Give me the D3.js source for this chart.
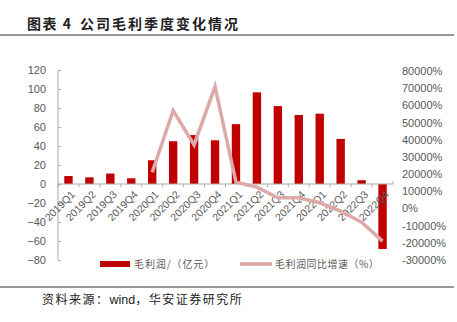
<!DOCTYPE html>
<html><head><meta charset="utf-8">
<script src="https://cdn.jsdelivr.net/npm/d3@7"></script>
<style>body{margin:0;background:#fff}svg{display:block}</style>
</head><body><svg id="c" width="457" height="322"></svg>
<script>
const categories = ["2019Q1","2019Q2","2019Q3","2019Q4","2020Q1","2020Q2","2020Q3","2020Q4","2021Q1","2021Q2","2021Q3","2021Q4","2022Q1","2022Q2","2022Q3","2022Q4"];
const grossProfit = [8.4, 7, 11, 6, 25, 45, 51.5, 46, 63, 96.5, 82, 72.6, 74, 47.4, 4, -68.4];
const growthCats = ["2020Q1","2020Q2","2020Q3","2020Q4","2021Q1","2021Q2","2021Q3","2021Q4","2022Q1","2022Q2","2022Q3","2022Q4"];
const growthPct = [21100, 57000, 37000, 70900, 15300, 12400, 6200, 6200, 3300, -1600, -8000, -19000];
const leftTicks = [120,100,80,60,40,20,0,-20,-40,-60,-80];
const rightTicks = [80000,70000,60000,50000,40000,30000,20000,10000,0,-10000,-20000,-30000];

const svg = d3.select("#c");
const FONT = "'Liberation Sans', Arial, sans-serif";
const CJK = "'Noto Sans CJK SC', sans-serif";
const gray = "#595959";

// title
svg.append("text").attr("x",27).attr("y",29).attr("font-family",CJK).attr("font-weight","bold")
  .attr("font-size",14).attr("letter-spacing",1.5).attr("fill","#222").text("图表 4");
svg.append("text").attr("x",80).attr("y",29).attr("font-family",CJK).attr("font-weight","bold")
  .attr("font-size",14).attr("letter-spacing",2).attr("fill","#222").text("公司毛利季度变化情况");
svg.append("line").attr("x1",0).attr("x2",454).attr("y1",35).attr("y2",35).attr("stroke","#333").attr("stroke-width",1.2);
svg.append("line").attr("x1",0).attr("x2",454).attr("y1",287).attr("y2",287).attr("stroke","#777").attr("stroke-width",1.5);
const src = svg.append("text").attr("x",42).attr("y",304).attr("font-family",CJK).attr("font-size",12).attr("fill","#222");
src.append("tspan").attr("letter-spacing",1.5).text("资料来源：");
src.append("tspan").attr("font-family",FONT).attr("font-size",12.5).text("wind");
src.append("tspan").attr("letter-spacing",1.5).text("，华安证券研究所");

const x = d3.scaleBand().domain(categories).range([58,393]).paddingInner(0.6).paddingOuter(0.3);
const xc = d3.scalePoint().domain(categories).range([58,393]).padding(0.5);
const yL = d3.scaleLinear().domain([-80,120]).range([260,70]);
const yR = d3.scaleLinear().domain([-30000,80000]).range([260,71]);

// left axis
const gl = svg.append("g").attr("transform","translate(58,0)")
  .call(d3.axisLeft(yL).tickValues(leftTicks).tickSize(-3).tickPadding(12));
gl.select(".domain").attr("stroke","#aaa").attr("d","M0,70V260");
gl.selectAll(".tick line").attr("stroke","#aaa");
gl.selectAll("text").attr("font-family",FONT).attr("font-size",11).attr("fill",gray);

// right axis (labels only)
const gr = svg.append("g").attr("transform","translate(398,0)")
  .call(d3.axisRight(yR).tickValues(rightTicks).tickSize(0).tickPadding(4).tickFormat(d=>d+"%"));
gr.select(".domain").remove();
gr.selectAll("text").attr("font-family",FONT).attr("font-size",11).attr("fill",gray);

// bars
svg.append("g").selectAll("rect").data(categories).join("rect")
  .attr("x",d=>x(d)).attr("width",x.bandwidth())
  .attr("y",(d,i)=>yL(Math.max(0,grossProfit[i])))
  .attr("height",(d,i)=>Math.abs(yL(grossProfit[i])-yL(0)))
  .attr("fill","#C00000");

// x axis at zero
const step = x.step();
const gx = svg.append("g").attr("transform",`translate(0,${yL(0)})`);
gx.append("line").attr("x1",58).attr("x2",393).attr("stroke","#aaa").attr("stroke-width",1.2);
gx.selectAll("line.t").data(d3.range(categories.length+1)).join("line").attr("class","t")
  .attr("x1",i=>58+i*step).attr("x2",i=>58+i*step).attr("y1",0).attr("y2",i=>i===categories.length?-3:3)
  .attr("stroke","#aaa");
gx.selectAll("text").data(categories).join("text")
  .attr("transform",d=>`translate(${xc(d)+2},6) rotate(-45)`)
  .attr("text-anchor","end").attr("dy","0.7em")
  .attr("font-family",FONT).attr("font-size",10.5).attr("fill",gray).text(d=>d);

// line
const line = d3.line().x((d,i)=>xc(growthCats[i])).y(d=>yR(d));
svg.append("path").datum(growthPct).attr("d",line).attr("fill","none")
  .attr("stroke","#DDA9A9").attr("stroke-width",3.5).attr("stroke-linejoin","miter");

// legend
svg.append("rect").attr("x",100).attr("y",261).attr("width",30).attr("height",6).attr("fill","#C00000");
svg.append("text").attr("x",134).attr("y",268).attr("font-family",CJK).attr("font-size",10).attr("letter-spacing",0.9).attr("fill",gray).text("毛利润/（亿元）");
svg.append("line").attr("x1",240).attr("x2",272).attr("y1",264).attr("y2",264).attr("stroke","#DDA9A9").attr("stroke-width",3.5);
svg.append("text").attr("x",275).attr("y",268).attr("font-family",CJK).attr("font-size",10).attr("letter-spacing",0.5).attr("fill",gray).text("毛利润同比增速（%）");
</script></body></html>
